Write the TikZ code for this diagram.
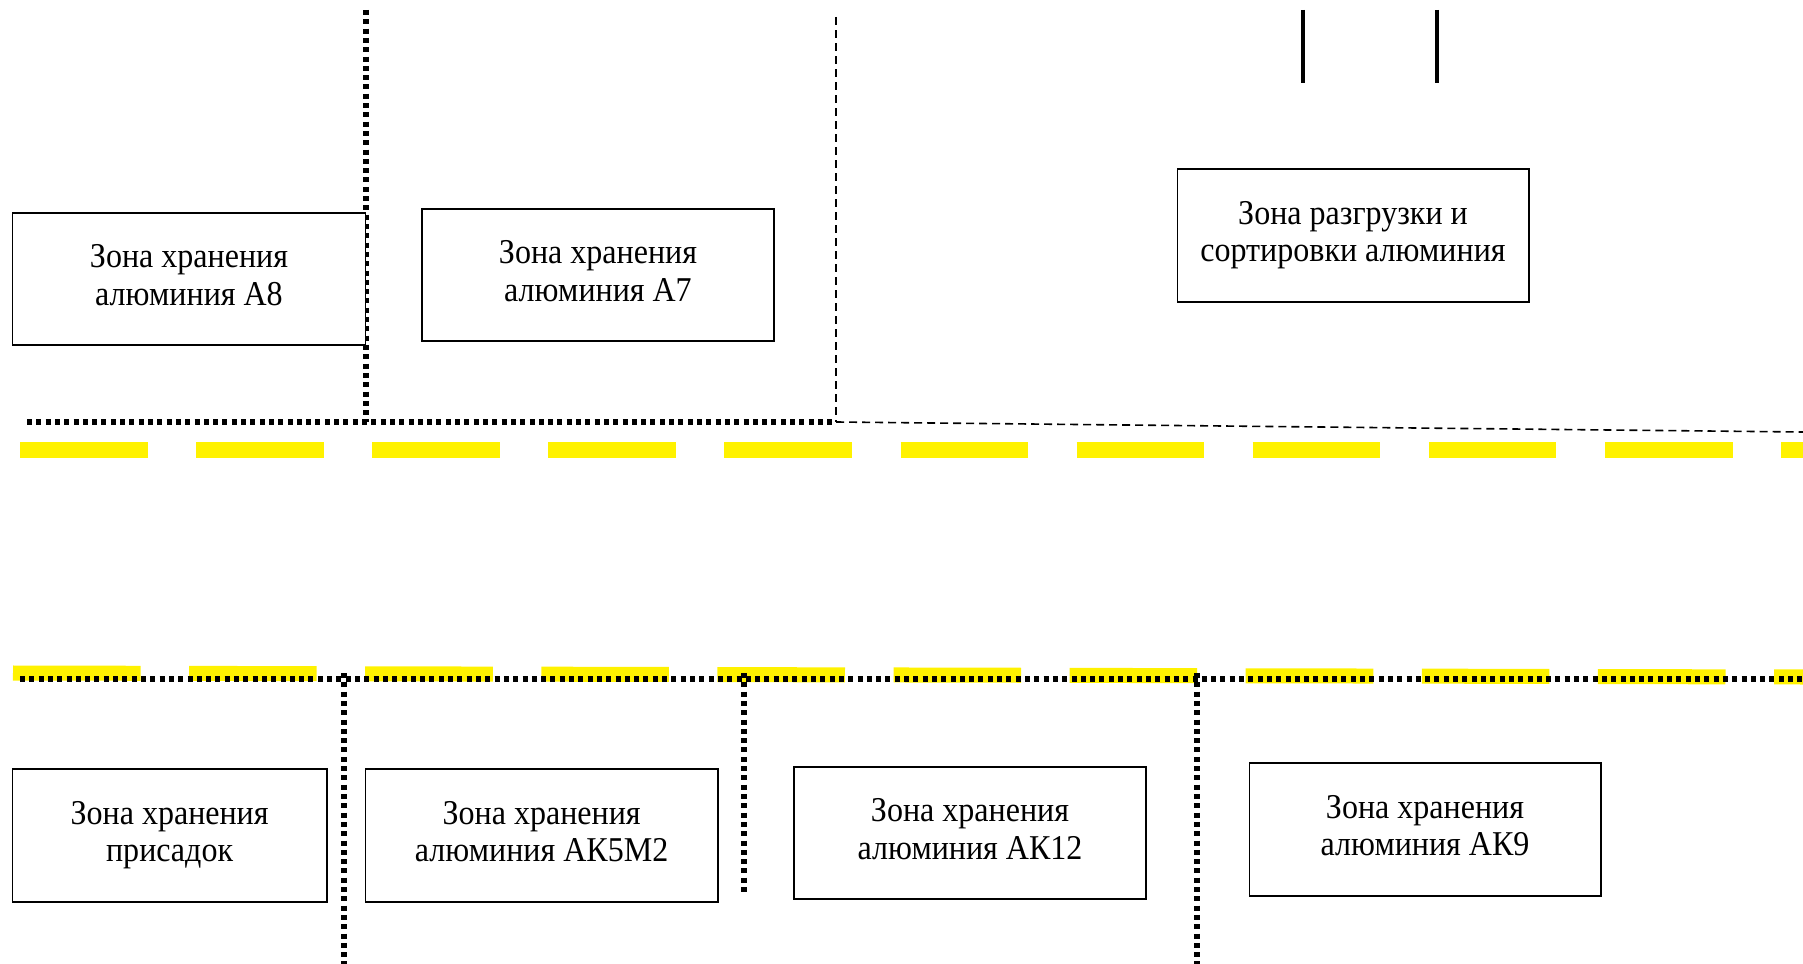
\documentclass[tikz,border=0pt]{standalone}
\usepackage{fontspec}
\setmainfont[FakeStretch=0.92]{Liberation Serif}
\begin{document}
\begin{tikzpicture}[x=0.01cm,y=-0.01cm,
  zone/.style={draw=black,line width=0.5pt,fill=white,inner sep=0pt},
  zonetext/.style={align=center,inner sep=0pt,yshift=0.04cm,text depth=0pt,
    font=\fontsize{9.9}{10.6}\selectfont},
  wall/.style={black,line width=0.06cm,dash pattern=on 0.05cm off 0.043cm},
  thinwall/.style={black,line width=0.016cm,dash pattern=on 0.08cm off 0.05cm},
  road/.style={yellow,line width=0.15cm,dash pattern=on 1.275cm off 0.485cm},
  gate/.style={black,line width=0.04cm}]
\useasboundingbox (0,0) rectangle (1803,964);
% roads
\draw[road] (20,450) -- (1803,450);
\draw[road] (13,673) -- (1803,677);
% upper walls
\coordinate (u1) at (366,10);
\coordinate (u2) at (366,422);
\coordinate (ul) at (27,422);
\coordinate (ur) at (836,422);
\coordinate (d1) at (836,17);
\coordinate (dr) at (1803,432);
\draw[wall] (u1) -- (u2);
\draw[wall] (ul) -- (ur);
\draw[thinwall] (d1) -- (ur);
\draw[thinwall] (ur) -- (dr);
% gate lines
\coordinate (g1a) at (1303,10); \coordinate (g1b) at (1303,83);
\coordinate (g2a) at (1437,10); \coordinate (g2b) at (1437,83);
\draw[gate] (g1a) -- (g1b);
\draw[gate] (g2a) -- (g2b);
% lower walls
\coordinate (bl) at (20,679);
\coordinate (br) at (1803,679);
\coordinate (v1a) at (344,673); \coordinate (v1b) at (344,964);
\coordinate (v2a) at (744,673); \coordinate (v2b) at (744,892);
\coordinate (v3a) at (1197,673); \coordinate (v3b) at (1197,964);
\draw[wall] (bl) -- (br);
\draw[wall] (v1a) -- (v1b);
\draw[wall] (v2a) -- (v2b);
\draw[wall] (v3a) -- (v3b);
% zones
\node[zone,minimum width=3.53cm,minimum height=1.32cm] (a8) at (189,279) {};
\node[zonetext] (a8t) at (a8.center) {Зона хранения\\алюминия А8};
\node[zone,minimum width=3.52cm,minimum height=1.32cm] (a7) at (598,275) {};
\node[zonetext] (a7t) at (a7.center) {Зона хранения\\алюминия А7};
\node[zone,minimum width=3.51cm,minimum height=1.33cm] (unl) at (1353,235.5) {};
\node[zonetext] (unlt) at (unl.center) {Зона разгрузки и\\сортировки алюминия};
\node[zone,minimum width=3.14cm,minimum height=1.33cm] (pr) at (169.6,835.5) {};
\node[zonetext] (prt) at (pr.center) {Зона хранения\\присадок};
\node[zone,minimum width=3.52cm,minimum height=1.33cm] (ak5) at (541.6,835.5) {};
\node[zonetext] (ak5t) at (ak5.center) {Зона хранения\\алюминия АК5М2};
\node[zone,minimum width=3.52cm,minimum height=1.32cm] (ak12) at (970,833) {};
\node[zonetext] (ak12t) at (ak12.center) {Зона хранения\\алюминия АК12};
\node[zone,minimum width=3.51cm,minimum height=1.33cm] (ak9) at (1425,829.5) {};
\node[zonetext] (ak9t) at (ak9.center) {Зона хранения\\алюминия АК9};
\end{tikzpicture}
\end{document}
